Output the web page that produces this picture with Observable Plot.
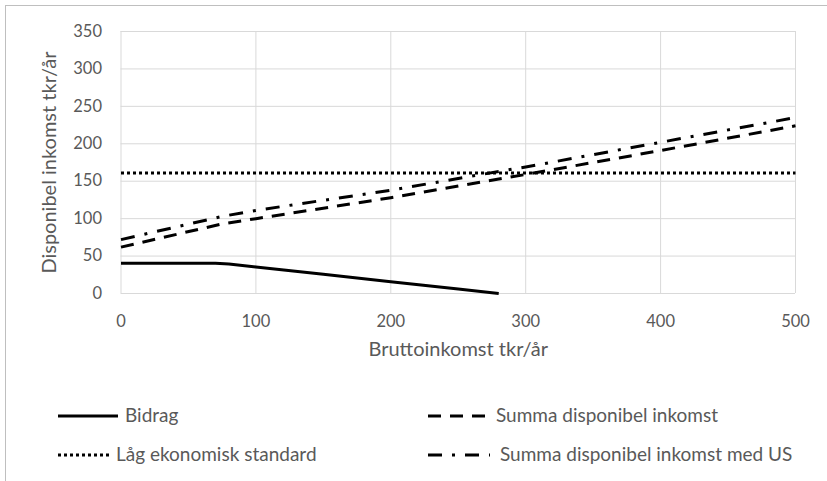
<!DOCTYPE html>
<html><head><meta charset="utf-8">
<script src="https://cdn.jsdelivr.net/npm/d3@7"></script>
<script src="https://cdn.jsdelivr.net/npm/@observablehq/plot@0.6"></script>
<style>
html,body{margin:0;padding:0;background:#fff;overflow:hidden;width:827px;height:481px;}
#frame{position:absolute;left:5px;top:5px;width:900px;height:600px;border:1px solid #bfbfbf;box-sizing:border-box;}
#chart{position:absolute;left:0;top:0;}
.leg{position:absolute;font-family:Lato,sans-serif;font-size:19px;color:#595959;white-space:nowrap;line-height:20px;height:20px;}
.leg svg{position:absolute;left:0;top:0;}
.leg span{position:absolute;top:-1px;}
</style></head><body>
<div id="frame"></div>
<div id="chart"></div>
<div id="legend"></div>
<script>
// ---- data (tkr/år) ----
const xTicks = [0, 100, 200, 300, 400, 500];
const yTicks = [0, 50, 100, 150, 200, 250, 300, 350];

const bidragX = [0, 70, 80, 100, 150, 200, 250, 280];
const bidragY = [40.5, 40.5, 39.5, 35.5, 25.7, 15.8, 5.9, 0];

const summaX = [0, 75, 100, 200, 280, 300, 400, 500];
const summaY = [62, 93, 100, 128, 153, 159, 191, 224];

const summaUSX = [0, 75, 100, 200, 280, 300, 400, 500];
const summaUSY = [72, 103, 111, 138, 163, 169, 202, 235];

const lagX = [0, 500];
const lagY = [161, 161];

const seriesNames = ["Bidrag", "Summa disponibel inkomst", "Låg ekonomisk standard", "Summa disponibel inkomst med US"];
const xLabel = "Bruttoinkomst tkr/år";
const yLabel = "Disponibel inkomst tkr/år";

// ---- styles ----
const dashes = {
  "Bidrag": null,
  "Summa disponibel inkomst": "13,9",
  "Låg ekonomisk standard": "3,3",
  "Summa disponibel inkomst med US": "14,10,3,10"
};
const pairs = (xs, ys) => xs.map((x, i) => ({x, y: ys[i]}));
const data = {
  "Bidrag": pairs(bidragX, bidragY),
  "Summa disponibel inkomst": pairs(summaX, summaY),
  "Låg ekonomisk standard": pairs(lagX, lagY),
  "Summa disponibel inkomst med US": pairs(summaUSX, summaUSY)
};
const textColor = "#595959";
const font = "Lato, sans-serif";

const lineMark = name => Plot.line(data[name], {
  x: "x", y: "y", stroke: "#000", strokeWidth: 3,
  strokeDasharray: dashes[name] || undefined,
  strokeLinecap: "butt", strokeLinejoin: "round"
});

const chart = Plot.plot({
  width: 827, height: 380,
  marginLeft: 120.5, marginRight: 32, marginTop: 31, marginBottom: 87,
  style: {fontFamily: font, background: "transparent", color: textColor, overflow: "visible"},
  x: {domain: [0, 500]},
  y: {domain: [0, 350]},
  marks: [
    Plot.gridX(xTicks, {stroke: "#d9d9d9", strokeOpacity: 1, strokeWidth: 1}),
    Plot.gridY(yTicks, {stroke: "#d9d9d9", strokeOpacity: 1, strokeWidth: 1}),
    Plot.axisX(xTicks, {tickSize: 0, tickPadding: 22, fontSize: 16.5, fill: textColor, label: null}),
    Plot.axisY(yTicks, {tickSize: 0, tickPadding: 19, fontSize: 16.5, fill: textColor, label: null}),
    Plot.text([xLabel], {frameAnchor: "bottom", dy: 62, fontSize: 20, fill: textColor, fontFamily: font, textAnchor: "middle"}),
    Plot.text([yLabel], {frameAnchor: "left", dx: -71.5, rotate: -90, fontSize: 20, fill: textColor, fontFamily: font, textAnchor: "middle"}),
    lineMark("Låg ekonomisk standard"),
    lineMark("Summa disponibel inkomst"),
    lineMark("Summa disponibel inkomst med US"),
    lineMark("Bidrag")
  ]
});
document.getElementById("chart").appendChild(chart);

// ---- legend (HTML below the plot) ----
const legendItems = [
  {name: "Bidrag", left: 58, top: 406, sw: 60, gap: 7},
  {name: "Låg ekonomisk standard", left: 58, top: 445, sw: 52, gap: 6},
  {name: "Summa disponibel inkomst", left: 428, top: 406, sw: 64, gap: 4},
  {name: "Summa disponibel inkomst med US", left: 428, top: 445, sw: 62, gap: 10}
];
const legend = document.getElementById("legend");
for (const it of legendItems) {
  const d = document.createElement("div");
  d.className = "leg";
  d.style.left = it.left + "px";
  d.style.top = it.top + "px";
  const da = dashes[it.name];
  d.innerHTML = `<svg width="${it.sw}" height="20"><line x1="0" x2="${it.sw}" y1="10" y2="10" stroke="#000" stroke-width="3" ${da ? `stroke-dasharray="${da}"` : ""}/></svg><span style="left:${it.sw + it.gap}px">${it.name}</span>`;
  legend.appendChild(d);
}
</script>
</body></html>
